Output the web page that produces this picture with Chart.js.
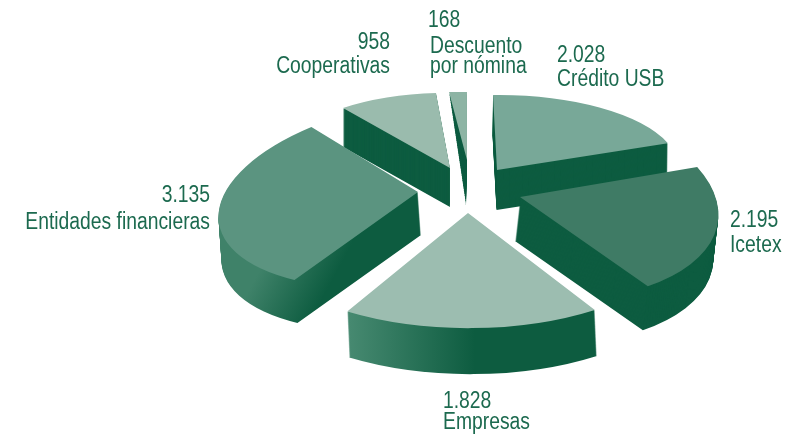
<!DOCTYPE html>
<html>
<head>
<meta charset="utf-8">
<style>html,body{margin:0;padding:0;background:#fff}canvas{display:block}</style>
<script src="https://cdn.jsdelivr.net/npm/chart.js@4"></script>
</head>
<body>
<canvas id="c" width="785" height="438"></canvas>
<script>
const categories = [["Descuento", "por nómina"], ["Crédito USB"], ["Icetex"], ["Empresas"], ["Entidades financieras"], ["Cooperativas"]];
const values = [168, 2028, 2195, 1828, 3135, 958];
const topColors = ["#8db4a4", "#78a898", "#3f7b65", "#9cbdb0", "#5b9480", "#9abbad"];

// Per-slice oblique projection of the library's arcs: [a, b, c, d] linear part, explode offset, extrusion.
const views = [
  { m: [175, -3.4, 18, 68],    off: [74.5, -59], ext: [-1, 45],  taper: 1 },
  { m: [181, -10, 22.6, 74.3], off: [104.5, -49], ext: [-0.5, 40] },
  { m: [193, -6.4, 46, 103],   off: [127.5, -22], ext: [-5, 44] },
  { m: [233, -12, 24.8, 114.5], off: [75.5, -6], ext: [2, 46], side: ["#468970", "#0d5c40", 350, 475] },
  { m: [199.5, -23, -4, 93],   off: [25.5, -27], ext: [3, 43], side: ["#3f8269", "#0d5c40", 222, 300] },
  { m: [173, -4.7, 14, 75],    off: [57.5, -51], ext: [0, 39] }
];
const drawOrder = [0, 5, 1, 4, 2, 3];
const sideColor = "#0d5c40";
const textColor = "#1c6a4f";
const textFont = '23px "Liberation Sans", sans-serif';
const textSqueeze = 0.84;

// Label anchors: x, baseline y of the value line, line baselines relative to it.
const labelLayout = [
  { x: 428, y: 27, align: "left", lines: [26, 46], lineX: 2 },
  { x: 557, y: 62, align: "left", lines: [24] },
  { x: 730, y: 227, align: "left", lines: [25] },
  { x: 443, y: 408, align: "left", lines: [21] },
  { x: 210, y: 202, align: "right", lines: [27] },
  { x: 390, y: 49, align: "right", lines: [24] }
];

function applyView(ctx, arc, v, t) {
  const R = arc.outerRadius;
  const s = Math.max(0.02, 1 - (v.taper || 0) * t);
  ctx.translate(arc.x + v.off[0] + v.ext[0] * t, arc.y + v.off[1] + v.ext[1] * t);
  ctx.transform(v.m[0] * s / R, v.m[1] * s / R, v.m[2] * s / R, v.m[3] * s / R, 0, 0);
  ctx.translate(-arc.x, -arc.y);
}

function ghost(arc, color) {
  const g = Object.create(arc);
  g.options = Object.assign({}, arc.options, { backgroundColor: color, borderWidth: 0, offset: 0 });
  return g;
}

const tiltedPie = {
  id: "tiltedPie",
  beforeDatasetsDraw(chart) {
    const ctx = chart.ctx;
    const arcs = chart.getDatasetMeta(0).data;
    drawOrder.forEach(i => {
      const arc = arcs[i], v = views[i];
      const n = Math.ceil(Math.abs(v.ext[1]));
      for (let k = n; k >= 1; k--) {
        ctx.save();
        applyView(ctx, arc, v, k / n);
        let fill = sideColor;
        if (v.side) {
          const inv = ctx.getTransform().inverse();
          const p0 = inv.transformPoint({ x: v.side[2], y: 340 });
          const p1 = inv.transformPoint({ x: v.side[3], y: 340 });
          fill = ctx.createLinearGradient(p0.x, p0.y, p1.x, p1.y);
          fill.addColorStop(0, v.side[0]);
          fill.addColorStop(1, v.side[1]);
        }
        ghost(arc, fill).draw(ctx);
        ctx.restore();
      }
      ctx.save();
      applyView(ctx, arc, v, 0);
      ghost(arc, topColors[i]).draw(ctx);
      ctx.restore();
    });
    return false;
  },
  afterDraw(chart) {
    const ctx = chart.ctx;
    ctx.save();
    ctx.fillStyle = textColor;
    ctx.font = textFont;
    ctx.textBaseline = "alphabetic";
    ctx.scale(textSqueeze, 1);
    values.forEach((val, i) => {
      const l = labelLayout[i];
      ctx.textAlign = l.align;
      const txt = String(val).replace(/\B(?=(\d{3})+$)/g, ".");
      ctx.fillText(txt, l.x / textSqueeze, l.y);
      categories[i].forEach((line, j) => ctx.fillText(line, (l.x + (l.lineX || 0)) / textSqueeze, l.y + l.lines[j]));
    });
    ctx.restore();
  }
};

new Chart(document.getElementById("c"), {
  type: "pie",
  data: {
    labels: categories.map(c => c.join(" ")),
    datasets: [{ data: values, backgroundColor: topColors, borderWidth: 0 }]
  },
  options: {
    responsive: false,
    animation: false,
    rotation: 0,
    layout: { padding: 0 },
    plugins: { legend: { display: false }, tooltip: { enabled: false }, title: { display: false } }
  },
  plugins: [tiltedPie]
});
</script>
</body>
</html>
